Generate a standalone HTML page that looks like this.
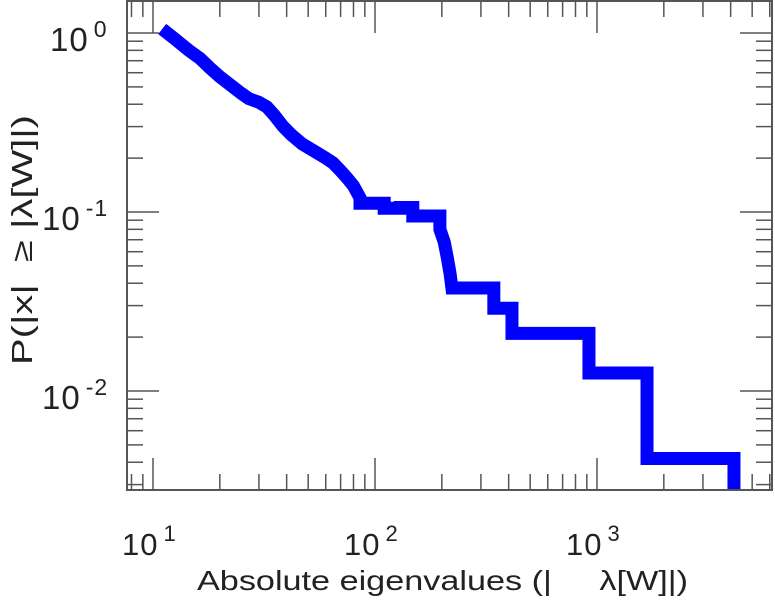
<!DOCTYPE html>
<html><head><meta charset="utf-8"><style>
html,body{margin:0;padding:0;background:#fff}
svg{display:block;font-family:"Liberation Sans",sans-serif}
</style></head><body>
<svg id="chart" width="775" height="600">
<defs><clipPath id="clip"><rect x="127" y="1" width="645" height="489"/></clipPath></defs>
<g id="ticks"></g>
<g id="series" clip-path="url(#clip)"></g>
<rect x="127" y="1" width="645" height="489" fill="none" stroke="#555" stroke-width="2"/>
<g id="labels" fill="#222"></g>
<text x="197" y="590" font-size="28" textLength="491" lengthAdjust="spacingAndGlyphs" fill="#222" xml:space="preserve">Absolute eigenvalues (|     λ[W]|)</text>
<text transform="translate(32,365) rotate(-90)" font-size="29" textLength="250" lengthAdjust="spacingAndGlyphs" fill="#222" xml:space="preserve">P(|x|  ≥ |λ[W]|)</text>
</svg>
<script>
const xs=[11.6,12.5,13.5,14.5,16.3,18,20,22.9,25,27,30,32.6,35,38.6,42,47,54.8,60,64.7,70,74.8,80,85.6,85.6,110,110,130,130,148,148,196,196,205,212,218,222,222,343,343,414,414,920,920,1680,1680,4140,4140];
const ps=[1.0,0.93,0.86,0.8,0.72,0.64,0.57,0.5,0.46,0.43,0.41,0.386,0.35,0.3,0.27,0.24,0.214,0.2,0.188,0.17,0.155,0.14,0.12,0.112,0.112,0.105,0.105,0.106,0.106,0.095,0.095,0.08,0.068,0.055,0.045,0.0376,0.0376,0.0376,0.029,0.029,0.021,0.021,0.0126,0.0126,0.0042,0.0042,0.0025];
const xTickExps=[1,2,3];
const yTickExps=[0,-1,-2];
const NS="http://www.w3.org/2000/svg";
function X(v){return 153+222*(Math.log10(v)-1);}
function Y(v){return 33-179*Math.log10(v);}
let d="M"+X(xs[0])+","+Y(ps[0]);
for(let i=1;i<xs.length;i++){d+=" L"+X(xs[i])+","+Y(ps[i]);}
const path=document.createElementNS(NS,'path');
path.setAttribute('d',d);path.setAttribute('fill','none');path.setAttribute('stroke','#0000ff');
path.setAttribute('stroke-width','13');path.setAttribute('stroke-linejoin','miter');path.setAttribute('stroke-linecap','square');


document.getElementById('series').appendChild(path);
const tg=document.getElementById('ticks');
function line(x1,y1,x2,y2){const l=document.createElementNS(NS,'line');
l.setAttribute('x1',x1);l.setAttribute('y1',y1);l.setAttribute('x2',x2);l.setAttribute('y2',y2);
l.setAttribute('stroke','#555');l.setAttribute('stroke-width','1.5');


tg.appendChild(l);}
for(let e=0;e<=3;e++){for(let m=1;m<10;m++){const v=m*Math.pow(10,e);const x=X(v);if(x<127||x>772)continue;const L=m==1?32:16;line(x,490,x,490-L);line(x,1,x,1+L);}}
for(let e=-3;e<=0;e++){for(let m=1;m<10;m++){const v=m*Math.pow(10,e);const y=Y(v);if(y<1||y>490)continue;const L=m==1?32:16;line(127,y,127+L,y);line(772,y,772-L,y);}}
const lg=document.getElementById('labels');
function lab(x,y,exp,fs,name){const t=document.createElementNS(NS,'text');
t.setAttribute('x',x);t.setAttribute('y',y);t.setAttribute('font-size',fs);t.setAttribute('letter-spacing','1');
t.innerHTML='10<tspan dx="5" dy="-14" font-size="'+Math.round(fs*0.7)+'">'+exp+'</tspan>';


lg.appendChild(t);}
xTickExps.forEach(e=>lab(X(Math.pow(10,e))-31,555,e,31,'x-tick-label'));
yTickExps.forEach(e=>lab(e==0?50:42,Y(Math.pow(10,e))+18,e,33,'y-tick-label'));
</script>
</body></html>
